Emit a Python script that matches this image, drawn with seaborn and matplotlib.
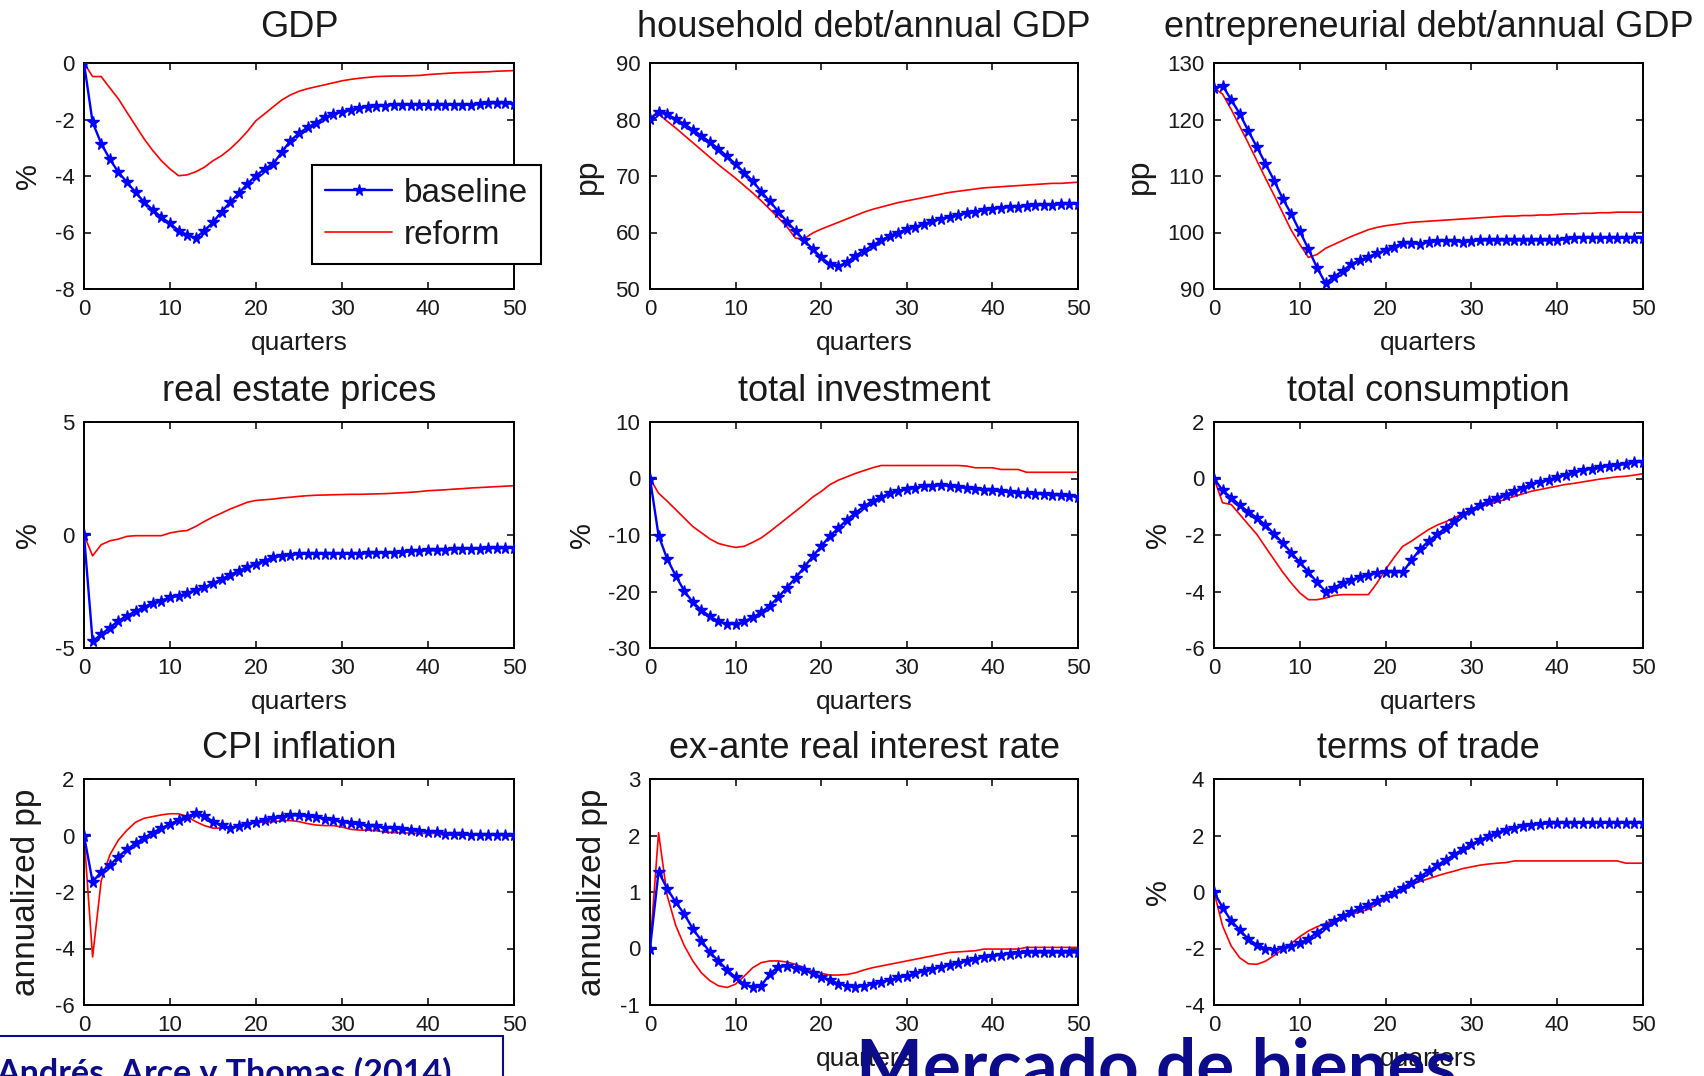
import matplotlib
matplotlib.use("Agg")
import matplotlib.pyplot as plt
from matplotlib.patches import Rectangle
import seaborn as sns

# quarters after the shock
quarters = list(range(51))

gdp_base = [0, -2.1, -2.85, -3.4, -3.87, -4.22, -4.58, -4.93, -5.2, -5.46,
            -5.68, -5.93, -6.09, -6.19, -5.93, -5.64, -5.26, -4.93, -4.61, -4.28,
            -3.99, -3.75, -3.57, -3.16, -2.75, -2.49, -2.28, -2.12, -1.92, -1.8,
            -1.72, -1.66, -1.59, -1.55, -1.52, -1.52, -1.47, -1.47, -1.47, -1.47,
            -1.47, -1.47, -1.47, -1.47, -1.47, -1.47, -1.46, -1.43, -1.42, -1.42,
            -1.45]
gdp_reform = [0, -0.48, -0.48, -0.88, -1.27, -1.75, -2.22, -2.69, -3.1, -3.46,
              -3.75, -3.99, -3.96, -3.85, -3.69, -3.46, -3.28, -3.04, -2.75, -2.42,
              -2.04, -1.8, -1.55, -1.31, -1.13, -1.0, -0.91, -0.84, -0.77, -0.7,
              -0.63, -0.58, -0.54, -0.51, -0.48, -0.47, -0.46, -0.46, -0.45, -0.44,
              -0.41, -0.39, -0.37, -0.35, -0.34, -0.33, -0.32, -0.31, -0.29, -0.28,
              -0.27]

hh_base = [80.1, 81.4, 80.9, 80.1, 79.2, 78.2, 77.1, 76.0, 74.8, 73.5,
           72.1, 70.6, 69.1, 67.2, 65.5, 63.7, 61.9, 60.3, 58.6, 57.1,
           55.6, 54.4, 54.0, 54.7, 55.9, 56.8, 57.7, 58.6, 59.4, 60.0,
           60.6, 61.0, 61.5, 62.0, 62.4, 62.8, 63.1, 63.4, 63.7, 64.0,
           64.2, 64.4, 64.5, 64.6, 64.7, 64.8, 64.9, 64.9, 65.0, 65.1,
           65.1]
hh_reform = [80.3, 81.0, 79.7, 78.5, 77.2, 75.9, 74.6, 73.3, 72.0, 70.8,
             69.6, 68.3, 67.0, 65.6, 64.1, 62.6, 61.0, 59.0, 58.9, 59.9,
             60.6, 61.2, 61.8, 62.4, 63.0, 63.6, 64.1, 64.5, 64.9, 65.3,
             65.6, 65.9, 66.2, 66.5, 66.8, 67.1, 67.3, 67.5, 67.7, 67.9,
             68.0, 68.1, 68.2, 68.3, 68.4, 68.5, 68.6, 68.7, 68.7, 68.8,
             68.9]

ent_base = [125.6, 126.0, 123.5, 121.0, 118.0, 115.1, 112.2, 109.2, 106.0, 103.3,
            100.2, 97.1, 93.8, 91.0, 92.2, 93.2, 94.4, 95.1, 95.7, 96.3,
            96.9, 97.5, 98.1, 98.1, 98.0, 98.4, 98.5, 98.5, 98.5, 98.4,
            98.5, 98.6, 98.6, 98.6, 98.6, 98.6, 98.6, 98.6, 98.6, 98.6,
            98.7, 98.8, 99.1, 99.1, 99.1, 99.1, 99.1, 99.1, 99.1, 99.1,
            99.0]
ent_reform = [125.6, 124.5, 121.8, 118.8, 115.8, 112.7, 109.6, 106.6, 103.5, 100.4,
              97.9, 95.6, 96.1, 97.2, 97.9, 98.6, 99.3, 99.9, 100.5, 100.9,
              101.2, 101.4, 101.6, 101.8, 101.9, 102.0, 102.1, 102.2, 102.3, 102.4,
              102.5, 102.6, 102.7, 102.8, 102.9, 102.9, 103.0, 103.0, 103.1, 103.1,
              103.2, 103.3, 103.3, 103.4, 103.4, 103.5, 103.5, 103.6, 103.6, 103.6,
              103.6]

re_base = [0, -4.7, -4.4, -4.1, -3.8, -3.57, -3.38, -3.19, -3.0, -2.9,
           -2.76, -2.7, -2.57, -2.43, -2.32, -2.13, -1.96, -1.76, -1.58, -1.43,
           -1.27, -1.14, -0.99, -0.92, -0.87, -0.84, -0.83, -0.83, -0.83, -0.83,
           -0.83, -0.83, -0.82, -0.8, -0.8, -0.79, -0.78, -0.77, -0.72, -0.69,
           -0.68, -0.68, -0.66, -0.62, -0.6, -0.6, -0.6, -0.58, -0.58, -0.57,
           -0.57]
re_reform = [0, -0.92, -0.43, -0.26, -0.18, -0.06, -0.03, -0.03, -0.03, -0.03,
             0.09, 0.16, 0.2, 0.38, 0.6, 0.8, 0.97, 1.15, 1.3, 1.45,
             1.53, 1.56, 1.59, 1.64, 1.67, 1.71, 1.74, 1.76, 1.77, 1.78,
             1.79, 1.8, 1.8, 1.81, 1.82, 1.83, 1.85, 1.87, 1.89, 1.92,
             1.96, 1.98, 2.0, 2.03, 2.05, 2.08, 2.1, 2.12, 2.14, 2.16,
             2.18]

inv_base = [0, -10.1, -14.2, -17.2, -19.9, -21.9, -23.3, -24.4, -25.3, -25.7,
            -25.8, -25.3, -24.6, -23.7, -22.5, -21.0, -19.3, -17.6, -15.7, -13.8,
            -12.0, -10.2, -8.8, -7.3, -6.1, -4.9, -4.0, -3.3, -2.6, -2.2,
            -1.9, -1.6, -1.4, -1.3, -1.2, -1.3, -1.5, -1.7, -1.9, -2.0,
            -2.1, -2.3, -2.4, -2.5, -2.6, -2.7, -2.8, -2.9, -3.0, -3.1,
            -3.2]
inv_reform = [0, -2.6, -4.0, -5.5, -7.0, -8.5, -9.6, -10.7, -11.5, -11.9,
              -12.2, -12.0, -11.3, -10.5, -9.4, -8.2, -7.0, -5.8, -4.6, -3.3,
              -2.3, -1.1, -0.3, 0.3, 0.9, 1.4, 1.9, 2.3, 2.3, 2.3,
              2.3, 2.3, 2.3, 2.3, 2.3, 2.3, 2.3, 2.2, 1.9, 1.9,
              1.9, 1.6, 1.6, 1.6, 1.1, 1.1, 1.1, 1.1, 1.1, 1.1,
              1.1]

cons_base = [0, -0.42, -0.68, -0.94, -1.18, -1.39, -1.65, -1.96, -2.28, -2.63,
             -2.96, -3.31, -3.67, -4.0, -3.86, -3.7, -3.6, -3.48, -3.4, -3.34,
             -3.31, -3.31, -3.32, -2.9, -2.51, -2.22, -1.98, -1.75, -1.49, -1.27,
             -1.1, -0.94, -0.8, -0.68, -0.57, -0.45, -0.33, -0.21, -0.12, -0.04,
             0.05, 0.14, 0.22, 0.29, 0.35, 0.4, 0.44, 0.47, 0.52, 0.58,
             0.59]
cons_reform = [0, -0.86, -0.92, -1.27, -1.63, -1.98, -2.43, -2.87, -3.31, -3.7,
               -4.05, -4.29, -4.29, -4.23, -4.14, -4.11, -4.11, -4.11, -4.11, -3.7,
               -3.22, -2.79, -2.4, -2.22, -2.01, -1.81, -1.65, -1.53, -1.39, -1.25,
               -1.12, -1.01, -0.92, -0.83, -0.74, -0.63, -0.54, -0.45, -0.39, -0.33,
               -0.27, -0.21, -0.17, -0.12, -0.07, -0.02, 0.02, 0.06, 0.08, 0.12,
               0.17]

cpi_base = [0, -1.64, -1.29, -1.05, -0.75, -0.49, -0.28, -0.08, 0.1, 0.26,
            0.4, 0.55, 0.67, 0.79, 0.7, 0.49, 0.37, 0.26, 0.32, 0.4,
            0.47, 0.55, 0.61, 0.64, 0.71, 0.71, 0.68, 0.65, 0.59, 0.55,
            0.49, 0.43, 0.4, 0.35, 0.32, 0.28, 0.26, 0.23, 0.19, 0.17,
            0.14, 0.12, 0.06, 0.05, 0.04, 0.03, 0.03, 0.02, 0.02, 0.02,
            0.02]
cpi_reform = [0, -4.3, -1.6, -0.69, -0.16, 0.19, 0.47, 0.61, 0.67, 0.73,
              0.77, 0.77, 0.67, 0.49, 0.35, 0.26, 0.26, 0.26, 0.35, 0.42,
              0.46, 0.47, 0.49, 0.52, 0.53, 0.49, 0.42, 0.37, 0.35, 0.35,
              0.3, 0.22, 0.19, 0.19, 0.17, 0.12, 0.1, 0.1, 0.08, 0.08,
              0.07, 0.07, 0.01, 0.01, 0.01, 0.01, 0.01, 0.01, 0.01, 0.01,
              0.01]

rate_base = [0, 1.36, 1.06, 0.82, 0.61, 0.35, 0.14, -0.07, -0.22, -0.38,
             -0.51, -0.63, -0.69, -0.66, -0.45, -0.32, -0.31, -0.34, -0.38, -0.44,
             -0.5, -0.56, -0.62, -0.66, -0.68, -0.66, -0.63, -0.59, -0.56, -0.51,
             -0.49, -0.44, -0.4, -0.36, -0.32, -0.29, -0.25, -0.22, -0.18, -0.15,
             -0.13, -0.11, -0.09, -0.08, -0.07, -0.07, -0.07, -0.07, -0.07, -0.07,
             -0.07]
rate_reform = [0, 2.05, 0.94, 0.41, 0.05, -0.22, -0.43, -0.57, -0.66, -0.69,
               -0.63, -0.49, -0.34, -0.25, -0.22, -0.22, -0.24, -0.28, -0.34, -0.4,
               -0.44, -0.47, -0.47, -0.46, -0.43, -0.38, -0.34, -0.31, -0.28, -0.25,
               -0.22, -0.19, -0.16, -0.13, -0.1, -0.07, -0.06, -0.05, -0.04, -0.01,
               -0.01, -0.01, -0.01, -0.01, 0.02, 0.02, 0.02, 0.02, 0.02, 0.02,
               0.02]

tot_base = [0, -0.55, -1.02, -1.34, -1.67, -1.87, -2.0, -2.05, -1.97, -1.91,
            -1.81, -1.65, -1.44, -1.22, -1.02, -0.85, -0.71, -0.58, -0.47, -0.32,
            -0.18, -0.02, 0.15, 0.33, 0.54, 0.74, 0.94, 1.13, 1.33, 1.51,
            1.69, 1.84, 1.98, 2.1, 2.2, 2.28, 2.34, 2.37, 2.4, 2.43,
            2.44, 2.45, 2.45, 2.45, 2.45, 2.45, 2.45, 2.45, 2.45, 2.45,
            2.45]
tot_reform = [0, -1.2, -1.91, -2.33, -2.54, -2.56, -2.45, -2.25, -2.03, -1.82,
              -1.58, -1.38, -1.23, -1.11, -0.99, -0.89, -0.79, -0.71, -0.61, -0.44,
              -0.26, -0.08, 0.09, 0.25, 0.37, 0.47, 0.57, 0.66, 0.74, 0.83,
              0.89, 0.95, 0.99, 1.02, 1.04, 1.1, 1.1, 1.1, 1.1, 1.1,
              1.1, 1.1, 1.1, 1.1, 1.1, 1.1, 1.1, 1.1, 1.02, 1.02,
              1.02]

titles = ["GDP", "household debt/annual GDP", "entrepreneurial debt/annual GDP",
          "real estate prices", "total investment", "total consumption",
          "CPI inflation", "ex-ante real interest rate", "terms of trade"]
ylabels = ["%", "pp", "pp", "%", "%", "%", "annualized pp", "annualized pp", "%"]
yticks = [[-8, -6, -4, -2, 0], [50, 60, 70, 80, 90], [90, 100, 110, 120, 130],
          [-5, 0, 5], [-30, -20, -10, 0, 10], [-6, -4, -2, 0, 2],
          [-6, -4, -2, 0, 2], [-1, 0, 1, 2, 3], [-4, -2, 0, 2, 4]]
xticks = [0, 10, 20, 30, 40, 50]
baseline_series = [gdp_base, hh_base, ent_base, re_base, inv_base,
                   cons_base, cpi_base, rate_base, tot_base]
reform_series = [gdp_reform, hh_reform, ent_reform, re_reform, inv_reform,
                 cons_reform, cpi_reform, rate_reform, tot_reform]

sns.set_style("ticks")
plt.rcParams['font.family'] = ['Liberation Sans', 'DejaVu Sans']
plt.rcParams['axes.unicode_minus'] = False

W, H = 1704, 1076
fig = plt.figure(figsize=(W / 100, H / 100), dpi=100)
fig.patch.set_facecolor("white")

# axes boxes in pixels (left, right) and (top)
col_px = [(84, 514), (650, 1078), (1214, 1643)]
row_top_px = [63, 422, 779]
title_pad = [19, 15, 15]
ax_h_px = 226

text_col = "#1a1a1a"
navy = "#0b0b8c"
ylabel_size = {"%": 21, "pp": 23, "annualized pp": 24}

for i in range(9):
    r, c = divmod(i, 3)
    x0, x1 = col_px[c]
    top = row_top_px[r]
    ax = fig.add_axes([x0 / W, 1 - (top + ax_h_px) / H, (x1 - x0) / W, ax_h_px / H])

    sns.lineplot(x=quarters, y=reform_series[i], ax=ax, color="#ff0000",
                 linewidth=1.2, label="reform", zorder=2)
    sns.lineplot(x=quarters, y=baseline_series[i], ax=ax, color="#0000ff",
                 linewidth=1.7, marker="*", markersize=8.5, markeredgewidth=1.0,
                 markeredgecolor="#0000ff", label="baseline", zorder=3)

    ax.set_xlim(0, 50)
    ax.set_ylim(yticks[i][0], yticks[i][-1])
    ax.set_xticks(xticks)
    ax.set_yticks(yticks[i])
    ax.tick_params(direction="in", length=5, width=1.1, top=True, right=True,
                   labelsize=16, colors="black", labelcolor=text_col, pad=7)
    for sp in ax.spines.values():
        sp.set_visible(True)
        sp.set_linewidth(1.4)
        sp.set_color("black")

    ax.set_title(titles[i], fontsize=26, color=text_col, pad=title_pad[r])
    ax.set_xlabel("quarters", fontsize=19, color=text_col, labelpad=8)
    ax.set_ylabel(ylabels[i], fontsize=ylabel_size[ylabels[i]], color=text_col,
                  labelpad=9)

    if i == 0:
        handles, labels = ax.get_legend_handles_labels()
        order = [labels.index("baseline"), labels.index("reform")]
        leg = ax.legend([handles[k] for k in order], [labels[k] for k in order],
                        loc="upper left", bbox_to_anchor=(0.53, 0.55),
                        fontsize=24, frameon=True, fancybox=False,
                        framealpha=1, edgecolor="black", handlelength=2.0,
                        borderpad=0.4, labelspacing=0.32, handletextpad=0.35,
                        borderaxespad=0)
        leg.get_frame().set_linewidth(1.5)
        for t in leg.get_texts():
            t.set_color(text_col)
    else:
        if ax.get_legend() is not None:
            ax.get_legend().remove()

# source box bottom left (covers the first x label of the last row)
box = Rectangle((-0.01, -0.05), 503 / W + 0.01, 0.05 + (1 - 1036 / H),
                transform=fig.transFigure, facecolor="white", edgecolor=navy,
                linewidth=1.5, zorder=5)
fig.patches.append(box)

fig.text(-0.002, -0.007, "Andrés, Arce y Thomas (2014)", fontsize=24.5,
         family=["Lato", "DejaVu Sans"], weight="bold", color=navy,
         ha="left", va="baseline", zorder=6)
fig.text(856 / W, -0.013, "Mercado de bienes", fontsize=51,
         family=["Lato", "DejaVu Sans"], weight="bold", color=navy,
         ha="left", va="baseline", zorder=6)

fig.savefig("out.png", dpi=100, facecolor="white")
